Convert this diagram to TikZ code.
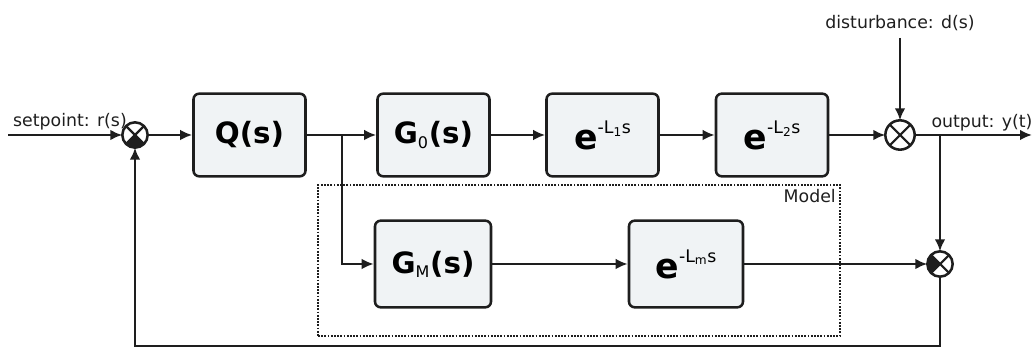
\documentclass[tikz,border=0pt]{standalone}
\usepackage{fontspec}
\setmainfont{DejaVu Sans}
\usepackage{tikz}
\usetikzlibrary{arrows.meta}
\definecolor{boxfill}{RGB}{240, 243, 245}
\definecolor{linegray}{RGB}{30, 30, 30}
\newcommand{\delay}[1]{{\fontsize{26}{28}\selectfont\bfseries e}\raisebox{12pt}{\mdseries\fontsize{13}{14}\selectfont -L\textsubscript{#1}s}}
\newcommand{\plant}[1]{\bfseries G\textsubscript{\mdseries\fontsize{12}{13}\selectfont #1}(s)}

\begin{document}
\begin{tikzpicture}[x=0.75pt, y=0.75pt, line width=1.9pt, draw=linegray,
            block/.style = {draw=linegray, line width=1.9pt, fill=boxfill, rounded corners=1.5mm, minimum width=84pt, minimum height=62pt, inner sep=0pt, font=\fontsize{22}{26}\selectfont},
              sum/.style = {draw=linegray, line width=1.9pt, circle, minimum size=19pt, inner sep=0pt, outer sep=0pt},
            label/.style = {font=\fontsize{13}{15}\selectfont, text=linegray},
         modelbox/.style = {draw=linegray, line width=1.5pt, dash pattern=on 1.3pt off 1.1pt, minimum width=391.5pt, minimum height=113.25pt, inner sep=0pt},
             link/.style = {line width=1.9pt, -{Latex[length=9pt, width=8pt]}}]
        \useasboundingbox (0,0) rectangle (1034,349);

        % model frame
        \node[modelbox] (model) at (579,88.5) {};
        \node[label, anchor=north east, inner sep=3pt] at (model.north east) {Model};

        % blocks
        \node[block] (Q)  at (249.5,214) {\bfseries Q(s)};
        \node[block] (G0) at (433.5,214) {\plant{0}};
        \node[block] (L1) at (602.5,214) {\delay{1}};
        \node[block] (L2) at (772,214)   {\delay{2}};
        \node[block, minimum width=87pt, minimum height=65pt] (GM) at (433,85) {\plant{M}};
        \node[block, minimum width=85.5pt, minimum height=65pt] (Lm) at (686,85) {\delay{m}};

        % summing points
        \node[sum] (s1) at (135,214) {};
        \node[sum, minimum size=22pt] (s2) at (900,214) {};
        \node[sum] (s3) at (940,85) {};
        \foreach \s in {s1, s2, s3}
            \draw[line width=1.6pt] (\s.north east) -- (\s.south west) (\s.north west) -- (\s.south east);
        \fill[linegray] (s1.center) -- (s1.south west) arc[start angle=225, end angle=315, radius=9.5pt] -- cycle;
        \fill[linegray] (s3.center) -- (s3.north west) arc[start angle=135, end angle=225, radius=9.5pt] -- cycle;

        % free ends
        \coordinate (ref) at (8,214);
        \coordinate (dist) at (900,311);
        \coordinate (out) at (1032,214);
        \coordinate (split) at (342,214);
        \coordinate (tap) at (940,214);
        \coordinate (low) at (940,3);

        % forward path
        \draw[link] (ref) -- (s1);
        \draw[link] (s1) -- (Q);
        \draw[link] (Q) -- (G0);
        \draw[link] (G0) -- (L1);
        \draw[link] (L1) -- (L2);
        \draw[link] (L2) -- (s2);
        \draw[link] (dist) -- (s2);
        \draw[link] (s2) -- (out);

        % model path and feedback
        \draw[link] (split) |- (GM);
        \draw[link] (GM) -- (Lm);
        \draw[link] (Lm) -- (s3);
        \draw[link] (tap) -- (s3);
        \draw[link] (s3) -- (low) -| (s1);

        % signal labels
        \node[label] at (70,227) {setpoint: r(s)};
        \node[label] at (900,326) {disturbance: d(s)};
        \node[label] at (982,226) {output: y(t)};
    \end{tikzpicture}
\end{document}
